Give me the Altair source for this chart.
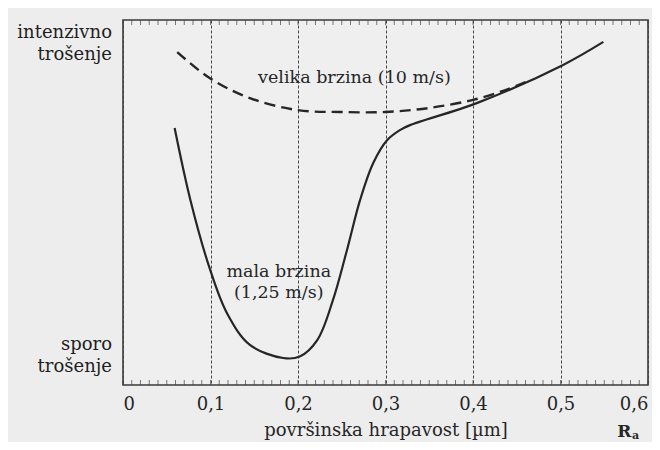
import altair as alt
import pandas as pd

# solid curve: mala brzina (1,25 m/s)
slow_x = [0.059, 0.077, 0.099, 0.119, 0.145, 0.183, 0.202, 0.222, 0.240, 0.256,
          0.271, 0.286, 0.302, 0.317, 0.328, 0.405, 0.503, 0.549]
slow_y = [0.704, 0.507, 0.320, 0.196, 0.110, 0.074, 0.078, 0.123, 0.233, 0.370,
          0.507, 0.608, 0.671, 0.699, 0.712, 0.773, 0.877, 0.940]

# dashed curve: velika brzina (10 m/s)
fast_x = [0.062, 0.099, 0.145, 0.200, 0.248, 0.300, 0.350, 0.400, 0.437, 0.46]
fast_y = [0.912, 0.841, 0.786, 0.753, 0.748, 0.748, 0.759, 0.781, 0.808, 0.830]

x_ticks = [0, 0.1, 0.2, 0.3, 0.4, 0.5, 0.6]
minor_ticks = [round(i * 0.01, 2) for i in range(61)]

ann_text = ["velika brzina (10 m/s)", "mala brzina", "(1,25 m/s)"]
ann_x = [0.2645, 0.178, 0.178]
ann_y = [0.841, 0.310, 0.252]

side_text = ["intenzivno", "trošenje", "sporo", "trošenje"]
side_x = [-0.0126, -0.0126, -0.0126, -0.0126]
side_y = [0.964, 0.904, 0.110, 0.049]

FONT = "DejaVu Serif"
INK = "#262626"

slow = pd.DataFrame({"x": slow_x, "y": slow_y})
fast = pd.DataFrame({"x": fast_x, "y": fast_y})
ticks = pd.DataFrame({"x": minor_ticks})
ann = pd.DataFrame({"t": ann_text, "x": ann_x, "y": ann_y})
side = pd.DataFrame({"t": side_text, "x": side_x, "y": side_y})
ra = pd.DataFrame({"t": ["R"], "x": [0.573], "y": [-0.128]})
ra_sub = pd.DataFrame({"t": ["a"], "x": [0.5857], "y": [-0.140]})

xs = alt.Scale(domain=[0, 0.6], nice=False, zero=False)
ys = alt.Scale(domain=[0, 1], nice=False, zero=False)

x_axis = alt.Axis(
    values=x_ticks,
    labelExpr="datum.value == 0 ? '0' : replace(format(datum.value, '.1f'), '.', ',')",
    title="površinska hrapavost [µm]",
    titleFont=FONT, titleFontSize=18, titleFontWeight="normal", titleColor=INK,
    titlePadding=8,
    labelFont=FONT, labelFontSize=18, labelColor=INK, labelPadding=10,
    ticks=False, domain=False,
    grid=True, gridColor="#444444", gridDash=[3, 2], gridWidth=1,
)

slow_line = alt.Chart(slow).mark_line(
    color=INK, strokeWidth=2.2, interpolate="catmull-rom"
).encode(
    x=alt.X("x:Q", scale=xs, axis=x_axis),
    y=alt.Y("y:Q", scale=ys, axis=None),
)

fast_line = alt.Chart(fast).mark_line(
    color=INK, strokeWidth=2.4, strokeDash=[11, 6], interpolate="catmull-rom"
).encode(
    x=alt.X("x:Q", scale=xs),
    y=alt.Y("y:Q", scale=ys),
)

bottom_ticks = alt.Chart(ticks).mark_tick(
    orient="vertical", size=5, thickness=1, color="#444444"
).encode(
    x=alt.X("x:Q", scale=xs),
    y=alt.value(362.5),
)
top_ticks = alt.Chart(ticks).mark_tick(
    orient="vertical", size=5, thickness=1, color="#444444"
).encode(
    x=alt.X("x:Q", scale=xs),
    y=alt.value(2.5),
)

ann_layer = alt.Chart(ann).mark_text(
    font=FONT, fontSize=17.5, color=INK, align="center", baseline="middle"
).encode(
    x=alt.X("x:Q", scale=xs), y=alt.Y("y:Q", scale=ys), text="t:N"
)

side_layer = alt.Chart(side).mark_text(
    font=FONT, fontSize=18, color="#1e1e1e", align="right", baseline="middle"
).encode(
    x=alt.X("x:Q", scale=xs), y=alt.Y("y:Q", scale=ys), text="t:N"
)

ra_layer = alt.Chart(ra).mark_text(
    font=FONT, fontSize=17, fontWeight="bold", color=INK, align="center", baseline="middle"
).encode(
    x=alt.X("x:Q", scale=xs), y=alt.Y("y:Q", scale=ys), text="t:N"
)
ra_sub_layer = alt.Chart(ra_sub).mark_text(
    font=FONT, fontSize=11, fontWeight="bold", color=INK, align="center", baseline="middle"
).encode(
    x=alt.X("x:Q", scale=xs), y=alt.Y("y:Q", scale=ys), text="t:N"
)

chart = alt.layer(
    slow_line, fast_line, bottom_ticks, top_ticks,
    ann_layer, side_layer, ra_layer, ra_sub_layer
).properties(
    width=525, height=365,
    autosize=alt.AutoSizeParams(type="none"),
    padding={"left": 115, "top": 12, "right": 4, "bottom": 57},
    background="#ededed",
).configure_view(
    stroke="#3a3a3a", strokeWidth=1.6, fill="#efefef"
)

chart.save("out.html", embed_options={"renderer": "svg", "actions": False})
